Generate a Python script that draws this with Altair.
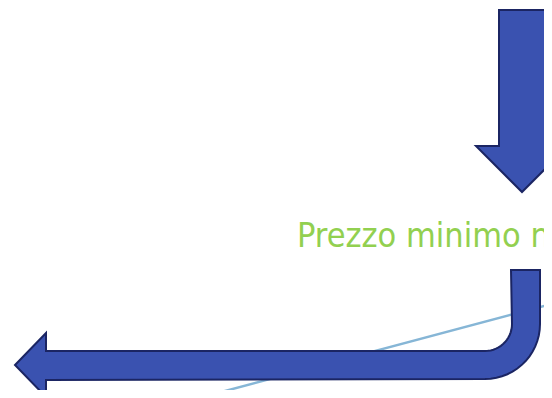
import altair as alt
import numpy as np

# ---- shape outlines (pixel coordinates of the slide region) ----
# Down arrow (top right)
down_x = [499, 545, 545, 568, 522, 476, 499, 499]
down_y = [10, 10, 146, 146, 192, 146, 146, 10]

# Bent arrow: vertical shaft, rounded corner, horizontal shaft, head to the left
bend_left_x = 511
bend_right_x = 540
bend_top_y = 270
corner_cx, corner_cy = 485, 324
inner_r, outer_r = 27, 55
shaft_top_y, shaft_bot_y = 351, 380
head_base_x = 46
head_top_y, head_bot_y = 333, 397
tip_x, tip_y = 15, 365

# Trend line behind the arrows
line_x = [150, 600]
line_y = [411, 291]

label_text = "Prezzo minimo no"

fill_color = "#3A52B0"
edge_color = "#1B2563"
line_color = "#86B6D6"
text_color = "#92D050"

OFF = 8  # page margin


def feature(xs, ys, kind="Polygon"):
    coords = [[float(a), float(b)] for a, b in zip(xs, ys)]
    if kind == "Polygon":
        geom = {"type": "Polygon", "coordinates": [coords]}
    else:
        geom = {"type": "LineString", "coordinates": coords}
    return {"type": "Feature", "properties": {}, "geometry": geom}


# build bent arrow outline
t = np.linspace(0, np.pi / 2, 16)
outer = [(corner_cx + outer_r * np.cos(a), corner_cy + outer_r * np.sin(a)) for a in t]
inner = [(corner_cx + inner_r * np.cos(a), corner_cy + inner_r * np.sin(a)) for a in t]
pts = [(bend_left_x, bend_top_y), (bend_right_x, bend_top_y)]
pts += outer
pts += [(head_base_x, shaft_bot_y), (head_base_x, head_bot_y), (tip_x, tip_y),
        (head_base_x, head_top_y), (head_base_x, shaft_top_y)]
pts += inner[::-1]
pts += [(bend_left_x, bend_top_y)]
bend_x = [p[0] for p in pts]
bend_y = [p[1] for p in pts]

PROJ = dict(type="identity", scale=1, translate=[-OFF, -OFF])


def fc(features):
    return alt.InlineData(values={"type": "FeatureCollection", "features": features},
                          format=alt.DataFormat(property="features", type="json"))


line_layer = alt.Chart(fc([feature(line_x, line_y, "LineString")])).mark_geoshape(
    filled=False, stroke=line_color, strokeWidth=2.5, clip=True
).project(**PROJ)

arrows = alt.Chart(fc([feature(down_x, down_y), feature(bend_x, bend_y)])).mark_geoshape(
    fill=fill_color, stroke=edge_color, strokeWidth=2, clip=True
).project(**PROJ)

label = alt.Chart(alt.Data(values=[{"t": label_text}])).mark_text(
    font="'DejaVu Sans Condensed', sans-serif",
    fontSize=34, color=text_color,
    align="left", baseline="alphabetic"
).encode(x=alt.value(297 - OFF), y=alt.value(247 - OFF), text="t:N")

chart = alt.layer(line_layer, arrows, label).properties(
    width=536, height=382, padding=0, autosize=alt.AutoSizeParams(type="none")
).configure_view(stroke=None)

chart.save("out.html", embed_options={"renderer": "svg", "actions": False})
